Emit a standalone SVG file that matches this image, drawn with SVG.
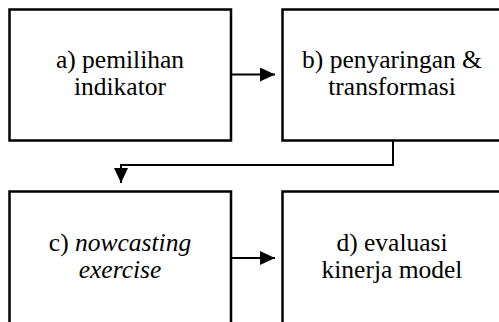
<svg xmlns="http://www.w3.org/2000/svg" width="499" height="322" viewBox="0 0 499 322">
<style>
.box{fill:#fff;stroke:#000;stroke-width:2.5}
.t{font-family:"Liberation Serif","Times New Roman",serif;font-size:25.5px;fill:#000;text-anchor:middle}
.i{font-style:italic}
.c{fill:none;stroke:#000;stroke-width:2}
</style>
<defs>
<marker id="ah" markerWidth="15" markerHeight="14" refX="15" refY="7" orient="auto" markerUnits="userSpaceOnUse">
<path d="M0,0 L15,7 L0,14 Z" fill="#000"/>
</marker>
</defs>
<rect width="499" height="322" fill="#fff"/>
<g id="node-a">
<rect class="box" x="9.5" y="9.5" width="221.5" height="131"/>
<text class="t" x="120" y="67.5">a) pemilihan</text>
<text class="t" x="120" y="95">indikator</text>
</g>
<g id="node-b">
<rect class="box" x="282.5" y="9.5" width="221.5" height="131"/>
<text class="t" x="392" y="67.5">b) penyaringan &amp;</text>
<text class="t" x="392" y="95">transformasi</text>
</g>
<g id="node-c">
<rect class="box" x="9.5" y="191.5" width="221.5" height="135"/>
<text class="t" x="120" y="250.5">c) <tspan class="i">nowcasting</tspan></text>
<text class="t i" x="120" y="278">exercise</text>
</g>
<g id="node-d">
<rect class="box" x="282.5" y="191.5" width="221.5" height="135"/>
<text class="t" x="392" y="250.5">d) evaluasi</text>
<text class="t" x="392" y="278">kinerja model</text>
</g>
<g id="connectors">
<line class="c" x1="231" y1="74.5" x2="275" y2="74.5" marker-end="url(#ah)"/>
<polyline class="c" points="393,140.5 393,165 121,165 121,183" marker-end="url(#ah)"/>
<line class="c" x1="231" y1="258" x2="275" y2="258" marker-end="url(#ah)"/>
</g>
</svg>
